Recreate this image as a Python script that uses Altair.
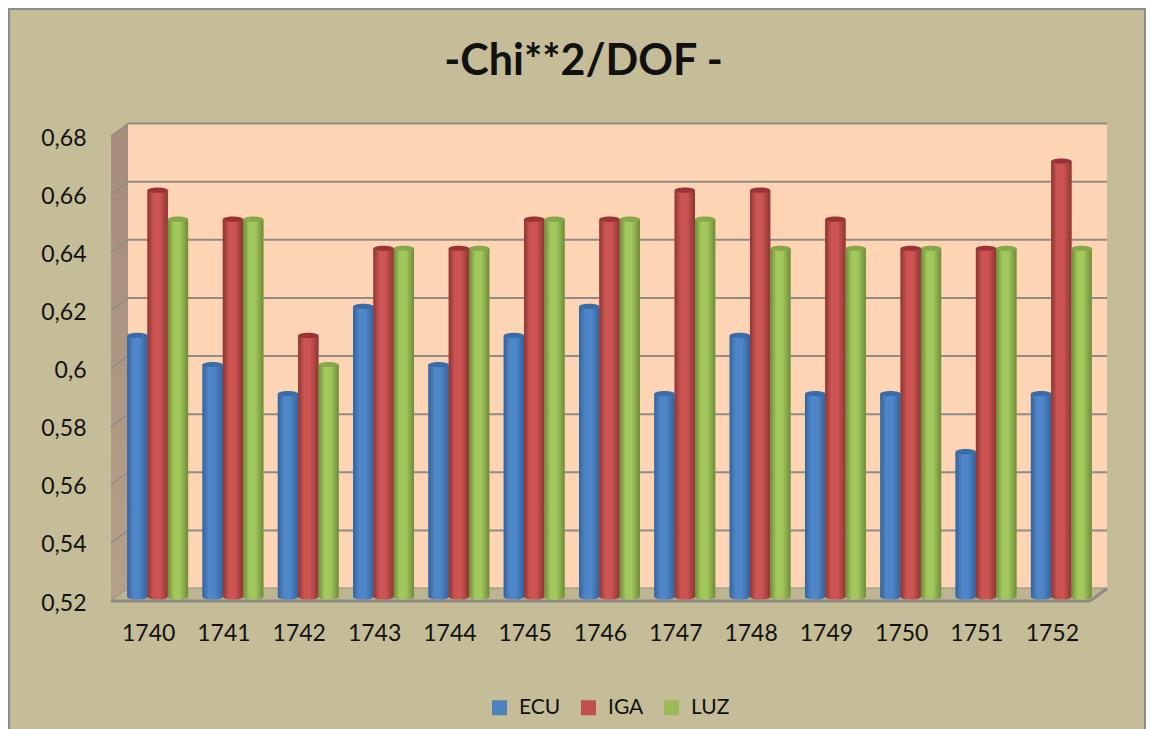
import altair as alt
import pandas as pd

years = ["1740","1741","1742","1743","1744","1745","1746","1747","1748","1749","1750","1751","1752"]
ecu = [0.61,0.60,0.59,0.62,0.60,0.61,0.62,0.59,0.61,0.59,0.59,0.57,0.59]
iga = [0.66,0.65,0.61,0.64,0.64,0.65,0.65,0.66,0.66,0.65,0.64,0.64,0.67]
luz = [0.65,0.65,0.60,0.64,0.64,0.65,0.65,0.65,0.64,0.64,0.64,0.64,0.64]
series = ["ECU","IGA","LUZ"]
solid = ["#4F81BD","#C0504D","#9BBB59"]
edge = ["#33639C","#8E3533","#6F8B3A"]
light = ["#4F86C8","#CC5553","#A2C75C"]
capc = ["#3A6CA8","#9A3236","#86A84A"]
levels = [0.52,0.54,0.56,0.58,0.60,0.62,0.64,0.66,0.68]

W, H = 979, 465
Y0, Y1 = 0.52, 0.68
DX = 17
DY = 12.5 / H * (Y1 - Y0)
GRID = "#8E8C84"

df = pd.DataFrame(
    [{"year": y, "series": s, "value": v}
     for s, vals in zip(series, [ecu, iga, luz]) for y, v in zip(years, vals)]
)

BX, BY = 9, -4
xs = alt.Scale(domain=years, range=[BX, W + BX], paddingInner=0, paddingOuter=0)
ys = alt.Scale(domain=[Y0, Y1], nice=False, zero=False)
os_ = alt.Scale(domain=series, paddingInner=0, paddingOuter=0.355)
pxs = alt.Scale(domain=[0, W], nice=False, zero=False)

YAX = alt.Axis(values=levels, labelFont="Lato", labelFontSize=23, labelColor="#111111",
               labelPadding=25, labelOffset=2, domain=False, ticks=False, grid=False, title=None,
               labelExpr="replace(format(datum.value, '.2~f'), '.', ',')")

def yq(field):
    return alt.Y(field, scale=ys, axis=YAX)

def grad(a, b):
    return alt.LinearGradient(
        gradient="linear", x1=0, x2=1, y1=0, y2=0,
        stops=[alt.GradientStop(color=a, offset=0),
               alt.GradientStop(color=b, offset=0.3),
               alt.GradientStop(color=b, offset=0.6),
               alt.GradientStop(color=a, offset=1)],
    )

ELLIPSE = "M-1,0 A1,0.26 0 1 1 1,0 A1,0.26 0 1 1 -1,0 Z"
xnone = alt.X("year:N", scale=xs, axis=None, sort=years)
off = alt.XOffset("series:N", scale=os_, sort=series)

# frame and walls
frame = alt.Chart(pd.DataFrame({"a": [0]})).mark_rect(
    fillOpacity=0, stroke="#8C8C8C", strokeWidth=2
).encode(x=alt.value(-102), x2=alt.value(1034), y=alt.value(-127), y2=alt.value(600))

wall = alt.Chart(pd.DataFrame({"px": [DX], "px2": [W + DX], "lo": [Y0 + DY], "hi": [Y1 + DY]})).mark_rect(
    fill="#FDD5B4"
).encode(
    x=alt.X("px:Q", scale=pxs, axis=None), x2="px2:Q",
    y=yq("lo:Q"), y2="hi:Q",
)

side = alt.Chart(pd.DataFrame({"px": [0, DX], "lo": [Y0, Y0 + DY], "hi": [Y1, Y1 + DY]})).mark_area(
    orient="vertical",
    color=alt.LinearGradient(gradient="linear", x1=0, x2=0, y1=0, y2=1,
                             stops=[alt.GradientStop(color="#A58C7C", offset=0),
                                    alt.GradientStop(color="#B5A08A", offset=1)]),
).encode(
    x=alt.X("px:Q", scale=pxs, axis=None),
    y=yq("lo:Q"), y2="hi:Q",
)

floor = alt.Chart(pd.DataFrame({
    "px": [0, DX, W, W + DX], "lo": [Y0, Y0, Y0, Y0 + DY], "hi": [Y0, Y0 + DY, Y0 + DY, Y0 + DY]
})).mark_area(orient="vertical", color="#BDB592").encode(
    x=alt.X("px:Q", scale=pxs, axis=None),
    y=yq("lo:Q"), y2="hi:Q",
)

grid_rows = [{"x0": DX, "x1": W + DX, "y0": l + DY, "y1": l + DY} for l in levels]
diag_rows = [{"x0": 0, "x1": DX, "y0": l, "y1": l + DY} for l in levels]

def lines(rows, width, color=GRID):
    return alt.Chart(pd.DataFrame(rows)).mark_rule(color=color, strokeWidth=width).encode(
        x=alt.X("x0:Q", scale=pxs, axis=None), x2="x1:Q",
        y=yq("y0:Q"), y2="y1:Q",
    )

grid = lines(grid_rows, 2)
diag = lines(diag_rows, 1.5)
front = lines([{"x0": 0, "x1": W, "y0": Y0, "y1": Y0},
               {"x0": W, "x1": W + DX, "y0": Y0, "y1": Y0 + DY}], 3)

# base layer: carries the x axis and the legend
base = alt.Chart(df).mark_bar(yOffset=BY, y2Offset=BY).encode(
    x=alt.X("year:N", scale=xs, sort=years, title=None,
            axis=alt.Axis(labelAngle=0, labelFont="Lato", labelFontSize=23, labelColor="#111111",
                          labelPadding=21, labelOffset=-BX, domain=False, ticks=False, grid=False)),
    xOffset=off,
    y=yq("value:Q"),
    y2=alt.datum(Y0),
    color=alt.Color("series:N", scale=alt.Scale(domain=series, range=solid), title=None,
                    legend=alt.Legend(orient="none", legendX=378, legendY=561, direction="horizontal",
                                      symbolType="square", symbolSize=225, symbolStrokeWidth=0,
                                      labelFont="Lato", labelFontSize=21, labelColor="#111111",
                                      columnPadding=17, labelOffset=9)),
)

layers = [frame, wall, grid, side, diag, floor, front, base]
for i, s in enumerate(series):
    d = df[df.series == s]
    fill = grad(edge[i], light[i])
    layers.append(alt.Chart(d).mark_point(
        shape=ELLIPSE, size=400, filled=True, opacity=1, strokeWidth=0, fill=fill, yOffset=BY
    ).encode(x=xnone, xOffset=off, y=alt.datum(Y0, scale=ys, axis=YAX)))
    layers.append(alt.Chart(d).mark_bar(color=fill, yOffset=BY, y2Offset=BY).encode(
        x=xnone, xOffset=off, y=yq("value:Q"), y2=alt.datum(Y0)))
    layers.append(alt.Chart(d).mark_point(
        shape=ELLIPSE, size=400, filled=True, opacity=1, strokeWidth=0, fill=capc[i], yOffset=BY
    ).encode(x=xnone, xOffset=off, y=yq("value:Q")))

chart = alt.layer(*layers).resolve_scale(x="independent").properties(
    width=W, height=H,
    title=alt.TitleParams("-Chi**2/DOF -", font="Lato", fontSize=43, fontWeight="bold", color="#111111",
                          anchor="middle", dx=-17, offset=-76),
    background="#C4BD97",
    padding={"left": 103, "top": 128, "right": 56, "bottom": 128},
    autosize=alt.AutoSizeParams(type="none"),
).configure_view(stroke=None)

chart.save("out.html", embed_options={"renderer": "svg", "actions": False})
